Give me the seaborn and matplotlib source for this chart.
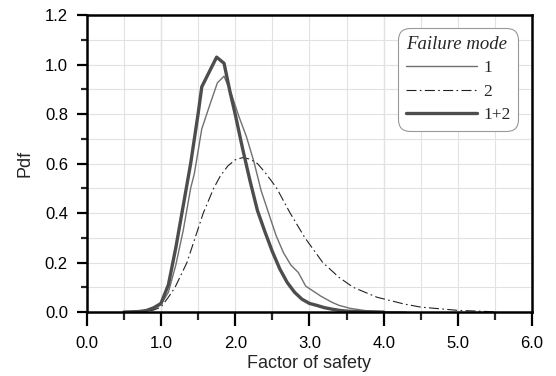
import numpy as np
import pandas as pd
import matplotlib
matplotlib.use("Agg")
import matplotlib.pyplot as plt
import seaborn as sns
from matplotlib.ticker import MultipleLocator, FormatStrFormatter

# mode 1 (thin solid)
fs_mode1 = [0.5, 0.7, 0.8, 0.9, 1.0, 1.1, 1.2, 1.3, 1.4, 1.45, 1.55, 1.65, 1.76, 1.85,
            1.95, 2.05, 2.15, 2.25, 2.35, 2.45, 2.55, 2.65, 2.75, 2.85, 2.95, 3.05,
            3.15, 3.3, 3.4, 3.55, 3.75, 4.0, 4.3]
pdf_mode1 = [0.0, 0.001, 0.004, 0.012, 0.03, 0.08, 0.19, 0.33, 0.5, 0.56, 0.74, 0.83, 0.926, 0.953,
             0.88, 0.79, 0.71, 0.61, 0.49, 0.40, 0.31, 0.24, 0.19, 0.16, 0.105, 0.085,
             0.065, 0.04, 0.027, 0.015, 0.006, 0.001, 0.0]

# mode 2 (dash-dot)
fs_mode2 = [0.6, 0.8, 0.9, 1.0, 1.1, 1.19, 1.35, 1.46, 1.57, 1.71, 1.8, 1.9, 2.0, 2.1, 2.2,
            2.3, 2.4, 2.5, 2.56, 2.74, 2.94, 3.18, 3.4, 3.59, 3.91, 4.27, 4.5, 5.0, 5.5]
pdf_mode2 = [0.0, 0.003, 0.008, 0.02, 0.06, 0.1, 0.2, 0.3, 0.4, 0.5, 0.55, 0.59, 0.615, 0.624, 0.618,
             0.6, 0.565, 0.525, 0.5, 0.4, 0.3, 0.2, 0.14, 0.1, 0.06, 0.033, 0.02, 0.007, 0.001]

# modes 1+2 (thick solid)
fs_comb = [0.5, 0.7, 0.8, 0.9, 1.0, 1.1, 1.2, 1.3, 1.4, 1.5, 1.55, 1.65, 1.75, 1.85, 1.93,
           2.0, 2.1, 2.2, 2.3, 2.4, 2.5, 2.6, 2.7, 2.8, 2.9, 3.0, 3.1, 3.2, 3.3, 3.4,
           3.5, 3.7, 4.0]
pdf_comb = [0.0, 0.002, 0.006, 0.017, 0.035, 0.11, 0.26, 0.43, 0.6, 0.8, 0.91, 0.97, 1.03, 1.005, 0.89,
            0.8, 0.66, 0.53, 0.41, 0.325, 0.245, 0.175, 0.12, 0.08, 0.052, 0.035, 0.027, 0.018, 0.012, 0.007,
            0.004, 0.001, 0.0]

sns.set_style("ticks")
plt.rcParams['font.family'] = ['Liberation Sans', 'DejaVu Sans']

fig = plt.figure(figsize=(5.56, 3.76), dpi=100)
ax = fig.add_axes([0.156, 0.17, 0.801, 0.79])

sns.lineplot(x=fs_mode1, y=pdf_mode1, ax=ax, color='#707070', linewidth=1.0, label='1')
sns.lineplot(x=fs_mode2, y=pdf_mode2, ax=ax, color='#222222', linewidth=0.8, label='2')
ax.lines[-1].set_dashes([9, 3, 1.5, 3])
sns.lineplot(x=fs_comb, y=pdf_comb, ax=ax, color='#4d4d4d', linewidth=2.4, label='1+2')

ax.set_xlim(0, 6)
ax.set_ylim(0, 1.2)
ax.xaxis.set_major_locator(MultipleLocator(1.0))
ax.xaxis.set_minor_locator(MultipleLocator(0.5))
ax.yaxis.set_major_locator(MultipleLocator(0.2))
ax.yaxis.set_minor_locator(MultipleLocator(0.1))
ax.xaxis.set_major_formatter(FormatStrFormatter('%.1f'))
ax.yaxis.set_major_formatter(FormatStrFormatter('%.1f'))

ax.grid(which='both', color='#e2e2e2', linewidth=0.8)
ax.set_axisbelow(True)
for xv in [1.0, 4.0]:
    ax.axvline(xv, color='#b0b0b0', linewidth=0.8, zorder=0.5)

for s in ax.spines.values():
    s.set_linewidth(1.8)
    s.set_color('black')
ax.tick_params(axis='x', which='major', direction='out', length=10, width=1.6, pad=7,
               labelsize=12, colors='black')
ax.tick_params(axis='x', which='minor', direction='out', length=6, width=1.6)
ax.tick_params(axis='y', which='major', direction='out', length=7.5, width=1.6, pad=6,
               labelsize=12, colors='black')
ax.tick_params(axis='y', which='minor', direction='out', length=4, width=1.6)

ax.set_xlabel('Factor of safety', fontsize=13, labelpad=3)
ax.set_ylabel('Pdf', fontsize=13, labelpad=8)

leg = ax.legend(title='Failure mode', loc='upper right', bbox_to_anchor=(0.969, 0.956),
                borderaxespad=0, alignment='left',
                prop={'family': 'Liberation Serif', 'size': 12.5}, handlelength=4.1,
                frameon=True, fancybox=True, edgecolor='#999999', framealpha=1,
                borderpad=0.45, labelspacing=0.42, handletextpad=0.35)
leg.get_title().set_fontfamily('Liberation Serif')
leg.get_title().set_fontstyle('italic')
leg.get_title().set_fontsize(13.5)
leg.get_frame().set_linewidth(0.8)
leg.get_frame().set_boxstyle('round', pad=0, rounding_size=0.7)

fig.savefig('out.png', dpi=100)
